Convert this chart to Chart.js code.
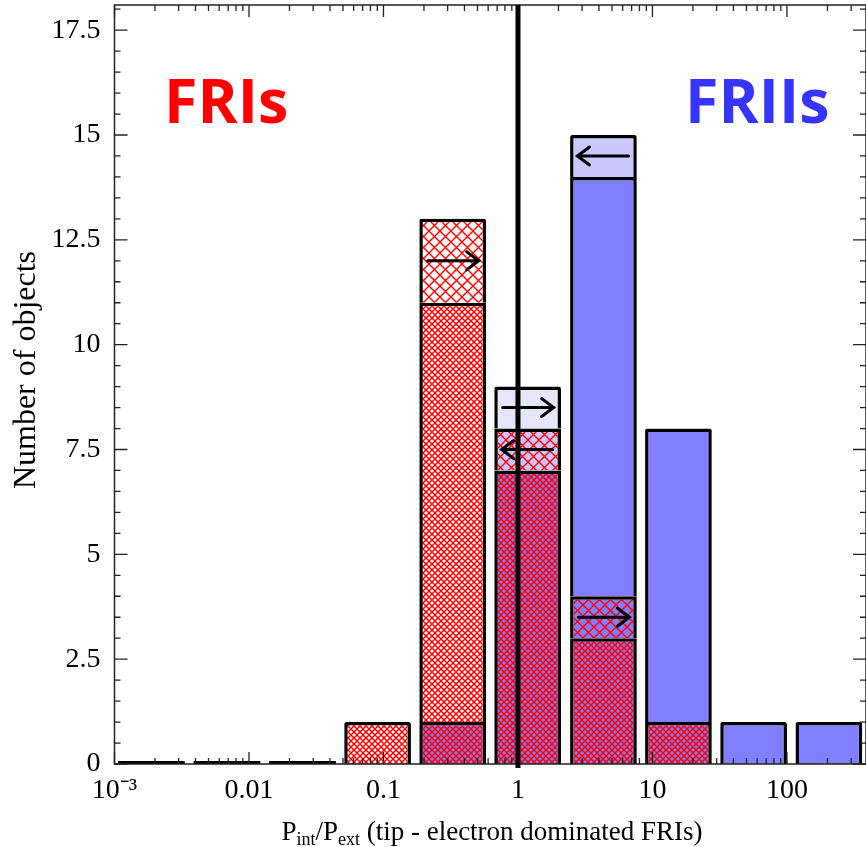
<!DOCTYPE html>
<html>
<head>
<meta charset="utf-8">
<script src="https://cdn.jsdelivr.net/npm/chart.js@4.4.0/dist/chart.umd.min.js"></script>
<style>
  html, body { margin: 0; padding: 0; background: #fff; }
  #wrap { width: 866px; height: 847px; position: relative; }
</style>
</head>
<body>
<div id="wrap"><canvas id="histCanvas"></canvas></div>
<script>
// bin centres in P_int/P_ext (log-spaced bins)
const binCenters = [0.00188, 0.00686, 0.0250, 0.0904, 0.327, 1.18, 4.32, 15.6, 56.5, 205];

// stacked segments, bottom to top
const emptyBins       = [0, 0, 0, null, null, null, null, null, null, null];
const overlapCounts   = [null, null, null, null, 1, 7, 3, 1, null, null];
const friCounts       = [null, null, null, 1, 10, null, null, null, null, null];
const friLimitCounts  = [null, null, null, null, 2, 1, 1, null, null, null];
const friiCounts      = [null, null, null, null, null, null, 10, 7, 1, 1];
const friiLimitCounts = [null, null, null, null, null, 1, 1, null, null, null];

// limit arrows: bin index, level, direction
const arrowBins   = [4, 5, 5, 6, 6];
const arrowLevels = [12, 8.5, 7.5, 14.5, 3.5];
const arrowDirs   = [1, 1, -1, -1, 1];

const splitValue = 1;

const xTickValues = [0.001, 0.01, 0.1, 1, 10, 100];
const xTickLabels = ["10⁻³", "0.01", "0.1", "1", "10", "100"];
const yTickValues = [0, 2.5, 5, 7.5, 10, 12.5, 15, 17.5];
const yTickLabels = ["0", "2.5", "5", "7.5", "10", "12.5", "15", "17.5"];

const X_MIN = 0.001, X_MAX = 387, Y_MAX = 18.1;

const RED = "#ff0000";
const BLUE = "#7f7fff";
const LIGHT_BLUE = "#c8c8ff";
const LAVENDER = "#e6e6fa";

function hatch(bg, step, lw) {
  const c = document.createElement("canvas");
  c.width = step; c.height = step;
  const g = c.getContext("2d");
  if (bg) { g.fillStyle = bg; g.fillRect(0, 0, step, step); }
  g.strokeStyle = RED; g.lineWidth = lw;
  g.beginPath();
  g.moveTo(-1, -1); g.lineTo(step + 1, step + 1);
  g.moveTo(-1, step + 1); g.lineTo(step + 1, -1);
  g.stroke();
  return g.createPattern(c, "repeat");
}

const denseWhite = hatch("#fff", 6, 1.5);
const denseBlue = hatch(BLUE, 6, 1.5);
const sparseWhite = hatch("#fff", 11, 1.4);
const sparseLight = hatch(LIGHT_BLUE, 11, 1.4);
const sparseBlue = hatch(BLUE, 11, 1.4);

const friLimitFill = [null, null, null, null, sparseWhite, sparseLight, sparseBlue, null, null, null];
const friiLimitFill = [null, null, null, null, null, LAVENDER, LIGHT_BLUE, null, null, null];

const toPoints = arr => arr.map((v, i) => ({ x: binCenters[i], y: v }));

const barStyle = {
  stack: "h",
  borderColor: "#000",
  borderWidth: 3.5,
  borderRadius: 2,
  barPercentage: 0.89,
  categoryPercentage: 1,
};

const noPadding = s => { s.paddingTop = 0; s.paddingBottom = 0; s.paddingLeft = 0; s.paddingRight = 0; };

const decor = {
  id: "decor",
  afterDatasetsDraw(chart) {
    const { ctx, chartArea: a, scales: { x, y } } = chart;
    ctx.save();
    ctx.strokeStyle = "#222";
    ctx.lineWidth = 1.3;

    // inward ticks on all four sides
    ctx.beginPath();
    for (let d = -3; d <= 2; d++) {
      for (let k = 1; k <= 9; k++) {
        const v = k * Math.pow(10, d);
        if (v < X_MIN || v > X_MAX) continue;
        const px = x.getPixelForValue(v);
        const len = k === 1 ? 12 : 6;
        ctx.moveTo(px, a.bottom); ctx.lineTo(px, a.bottom - len);
        ctx.moveTo(px, a.top); ctx.lineTo(px, a.top + len);
      }
    }
    for (let v = 0; v <= Y_MAX; v += 0.5) {
      const py = y.getPixelForValue(v);
      const len = (v % 2.5 === 0) ? 13 : 6;
      ctx.moveTo(a.left, py); ctx.lineTo(a.left + len, py);
      ctx.moveTo(a.right, py); ctx.lineTo(a.right - len, py);
    }
    ctx.stroke();

    ctx.lineWidth = 1.5;
    ctx.strokeRect(a.left, a.top, a.right - a.left, a.bottom - a.top);

    // FRI / FRII divide
    const sx = x.getPixelForValue(splitValue);
    ctx.strokeStyle = "#000";
    ctx.lineWidth = 5;
    ctx.beginPath();
    ctx.moveTo(sx, a.top); ctx.lineTo(sx, a.bottom + 4);
    ctx.stroke();

    // limit arrows
    ctx.lineWidth = 3;
    ctx.lineCap = "round";
    ctx.lineJoin = "miter";
    arrowBins.forEach((b, i) => {
      const cx = x.getPixelForValue(binCenters[b]);
      const cy = y.getPixelForValue(arrowLevels[i]);
      const dir = arrowDirs[i];
      const tip = cx + dir * 26;
      ctx.beginPath();
      ctx.moveTo(cx - dir * 25, cy); ctx.lineTo(tip, cy);
      ctx.moveTo(tip - dir * 12, cy - 9); ctx.lineTo(tip, cy); ctx.lineTo(tip - dir * 12, cy + 9);
      ctx.stroke();
    });
    ctx.restore();
  },
  afterDraw(chart) {
    const { ctx } = chart;
    ctx.save();
    ctx.font = "bold 61px 'Open Sans'";
    ctx.textBaseline = "alphabetic";
    ctx.fillStyle = RED;
    ctx.fillText("FRIs", 164, 123);
    ctx.fillStyle = "#3535ff";
    ctx.fillText("FRIIs", 685, 123);

    ctx.fillStyle = "#000";
    ctx.font = "32px 'Liberation Serif'";
    ctx.textAlign = "center";
    ctx.translate(35, 370);
    ctx.rotate(-Math.PI / 2);
    ctx.fillText("Number of objects", 0, 0);
    ctx.restore();

    // x title with subscripts
    const parts = [["P", 0], ["int", 1], ["/P", 0], ["ext", 1], [" (tip - electron dominated FRIs)", 0]];
    const fontFor = sub => sub ? "18px 'Liberation Serif'" : "27px 'Liberation Serif'";
    ctx.save();
    ctx.fillStyle = "#000";
    let total = 0;
    parts.forEach(([t, s]) => { ctx.font = fontFor(s); total += ctx.measureText(t).width; });
    let cx = 492 - total / 2;
    parts.forEach(([t, s]) => {
      ctx.font = fontFor(s);
      ctx.fillText(t, cx, s ? 845 : 840);
      cx += ctx.measureText(t).width;
    });
    ctx.restore();
  }
};

new Chart(document.getElementById("histCanvas"), {
  type: "bar",
  data: {
    datasets: [
      { ...barStyle, data: toPoints(emptyBins), backgroundColor: "#000", borderWidth: 0, minBarLength: 3 },
      { ...barStyle, data: toPoints(overlapCounts), backgroundColor: denseBlue },
      { ...barStyle, data: toPoints(friCounts), backgroundColor: denseWhite },
      { ...barStyle, data: toPoints(friLimitCounts), backgroundColor: friLimitFill },
      { ...barStyle, data: toPoints(friiCounts), backgroundColor: BLUE },
      { ...barStyle, data: toPoints(friiLimitCounts), backgroundColor: friiLimitFill },
    ],
  },
  options: {
    responsive: true,
    maintainAspectRatio: false,
    animation: false,
    devicePixelRatio: 1,
    layout: { padding: { top: 5, right: -4, left: 0, bottom: 0 } },
    plugins: { legend: { display: false }, tooltip: { enabled: false } },
    scales: {
      x: {
        type: "logarithmic",
        min: X_MIN, max: X_MAX,
        offset: false,
        grid: { display: false, drawTicks: false, offset: false },
        border: { display: false },
        afterBuildTicks: s => { s.ticks = xTickValues.map(v => ({ value: v })); },
        afterFit: s => { s.height = 83; noPadding(s); },
        ticks: {
          autoSkip: false, maxRotation: 0, padding: 10, color: "#000",
          font: { family: "Liberation Serif", size: 28 },
          callback: (v, i) => xTickLabels[i],
        },
      },
      y: {
        stacked: true,
        min: 0, max: Y_MAX,
        grid: { display: false, drawTicks: false },
        border: { display: false },
        afterBuildTicks: s => { s.ticks = yTickValues.map(v => ({ value: v })); },
        afterFit: s => { s.width = 114.5; noPadding(s); },
        ticks: {
          padding: 14, color: "#000",
          font: { family: "Liberation Serif", size: 28 },
          callback: (v, i) => yTickLabels[i],
        },
      },
    },
  },
  plugins: [decor],
});
</script>
</body>
</html>
